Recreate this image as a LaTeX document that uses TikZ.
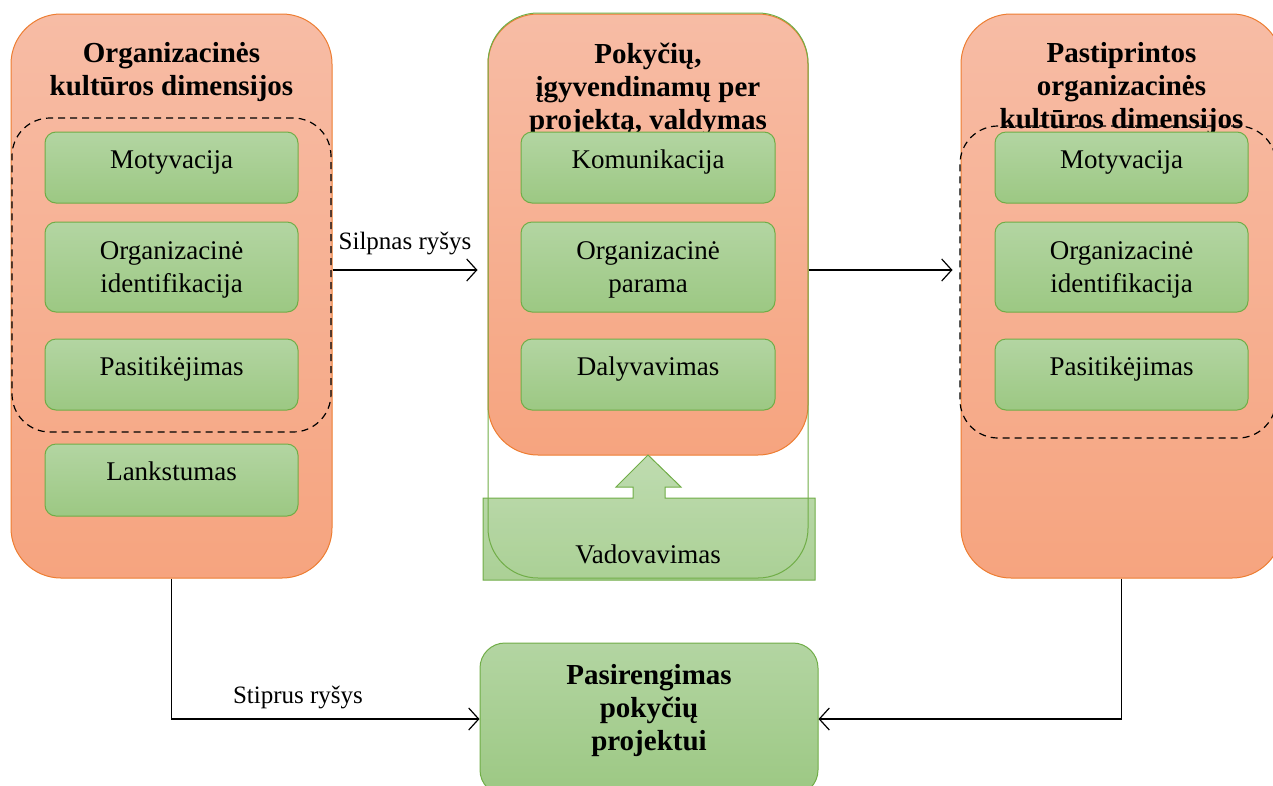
\documentclass[tikz,border=0pt]{standalone}
\usepackage{fontspec}
\setmainfont{Liberation Serif}
\usetikzlibrary{arrows.meta,calc}

\definecolor{orangeline}{HTML}{ED7D31}
\definecolor{orangetop}{HTML}{F7BCA5}
\definecolor{orangebot}{HTML}{F6A47F}
\definecolor{greenline}{HTML}{70AD47}
\definecolor{greentop}{HTML}{B3D5A2}
\definecolor{greenbot}{HTML}{9CC883}

\newcommand\ttlfnt{\fontsize{29}{33}\selectfont\bfseries}
\newcommand\bodyfnt{\fontsize{27}{33}\selectfont}
\newcommand\lblfnt{\fontsize{25}{30}\selectfont}

\tikzset{
  panel/.style={draw=orangeline, line width=1pt, rounded corners=50pt,
    top color=orangetop, bottom color=orangebot,
    minimum width=321pt, inner sep=0pt},
  item/.style={draw=greenline, line width=1pt, rounded corners=11pt,
    top color=greentop, bottom color=greenbot,
    minimum width=253pt, inner sep=0pt},
  itemtext/.style={font=\bodyfnt, align=center, inner sep=0pt},
  oneline/.style={itemtext, anchor=base},
  group/.style={draw=black, line width=1.2pt, dash pattern=on 7pt off 5pt,
    rounded corners=38pt, inner sep=0pt},
  heading/.style={align=center, font=\ttlfnt, inner sep=0pt},
  conn/.style={draw=black, line width=1.2pt,
    -{Straight Barb[length=10pt,width=22pt,line width=1.2pt]}},
  lbl/.style={font=\lblfnt, inner sep=0pt},
}

\begin{document}
\begin{tikzpicture}[x=1pt,y=-1pt]
\path[use as bounding box, clip] (0,0) rectangle (1273,785);

% left column: current culture dimensions
\node[panel, minimum height=564pt] (L) at (171.5,296) {};
\node[heading] (Lt) at (171.5,72) {Organizacinės\\kultūros dimensijos};
\node[group, minimum width=319pt, minimum height=314pt] (Lg) at (171.5,275) {};
\node[item, minimum height=71pt] (L1) at (171.5,167.5) {};
\node[item, minimum height=90pt] (L2) at (171.5,267) {};
\node[item, minimum height=71pt] (L3) at (171.5,374.5) {};
\node[item, minimum height=72pt] (L4) at (171.5,480) {};
\node[oneline] (L1t) at ($(L1.center)+(0,0.8)$) {Motyvacija};
\node[itemtext] (L2t) at ($(L2.center)+(0,3)$) {Organizacinė\\identifikacija};
\node[oneline] (L3t) at ($(L3.center)+(0,0.8)$) {Pasitikėjimas};
\node[oneline] (L4t) at ($(L4.center)+(0,0.8)$) {Lankstumas};

% middle column: change management
\node[panel, minimum width=320pt, minimum height=441pt] (M) at (648,234.5) {};
\node[heading] (Mt) at (648,89) {Pokyčių,\\įgyvendinamų per\\projektą, valdymas};
\node[item, minimum width=254pt, minimum height=71pt] (M1) at (648,167.5) {};
\node[item, minimum width=254pt, minimum height=90pt] (M2) at (648,267) {};
\node[item, minimum width=254pt, minimum height=71pt] (M3) at (648,374.5) {};
\node[oneline] (M1t) at ($(M1.center)+(0,0.8)$) {Komunikacija};
\node[itemtext] (M2t) at ($(M2.center)+(0,3)$) {Organizacinė\\parama};
\node[oneline] (M3t) at ($(M3.center)+(0,0.8)$) {Dalyvavimas};

% leadership block arrow pushing into the middle column
\path[top color=greentop, bottom color=greenbot, fill opacity=0.85,
  draw=greenline, line width=1pt]
  (483,580) -- (483,498) -- (633,498) -- (633,487) -- (616,487) -- (648,455)
  -- (681,487) -- (665,487) -- (665,498) -- (815,498) -- (815,580) -- cycle;
\node[draw=greenline, line width=1pt, rounded corners=50pt,
  minimum width=320pt, minimum height=565pt, inner sep=0pt] (Mf) at (648,295.5) {};
\node[oneline] (Mv) at (648,563) {Vadovavimas};

% right column: strengthened culture dimensions
\node[panel, minimum height=564pt] (R) at (1121.5,296) {};
\node[heading] (Rt) at (1121.5,89) {Pastiprintos\\organizacinės\\kultūros dimensijos};
\node[group, minimum width=316pt, minimum height=312pt] (Rg) at (1118,282) {};
\node[item, minimum height=71pt] (R1) at (1121.5,167.5) {};
\node[item, minimum height=90pt] (R2) at (1121.5,267) {};
\node[item, minimum height=71pt] (R3) at (1121.5,374.5) {};
\node[oneline] (R1t) at ($(R1.center)+(0,0.8)$) {Motyvacija};
\node[itemtext] (R2t) at ($(R2.center)+(0,3)$) {Organizacinė\\identifikacija};
\node[oneline] (R3t) at ($(R3.center)+(0,0.8)$) {Pasitikėjimas};

% bottom: readiness for the change project
\node[item, rounded corners=25pt, minimum width=338pt, minimum height=152pt] (P) at (649,719) {};
\node[heading] (Pt) at (649,711) {Pasirengimas\\pokyčių\\projektui};

% connectors
\coordinate (row) at (0,270);
\draw[conn] (L.east |- row) -- ([xshift=-10pt]M.west |- row);
\node[lbl] (weak) at (405,243) {Silpnas ryšys};
\draw[conn] (M.east |- row) -- ([xshift=-8pt]R.west |- row);
\draw[conn] (L.south) |- (P.west);
\node[lbl] (strong) at (298,697) {Stiprus ryšys};
\draw[conn] (R.south) |- (P.east);
\end{tikzpicture}
\end{document}
